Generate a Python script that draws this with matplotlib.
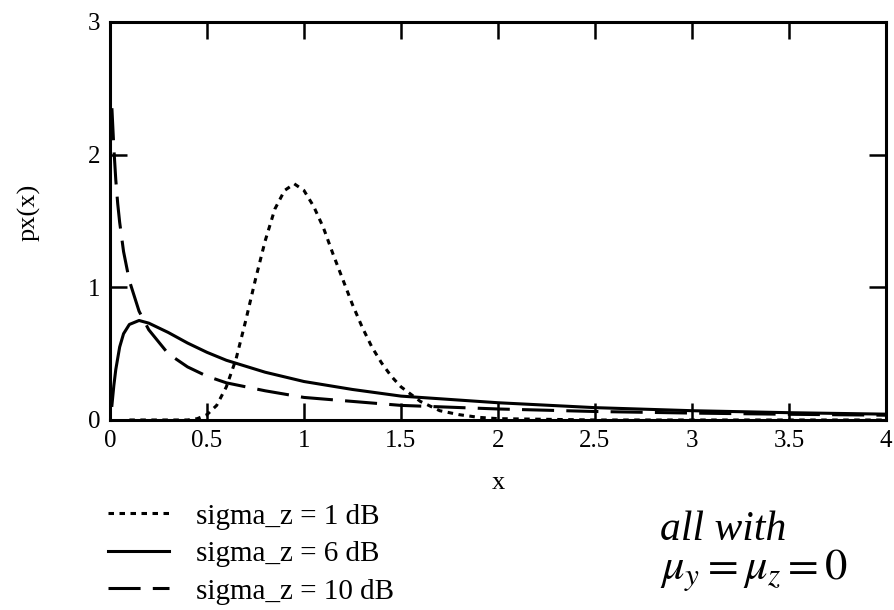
import numpy as np
import matplotlib
matplotlib.use('Agg')
import matplotlib.pyplot as plt

plt.rcParams['font.family'] = ['Liberation Serif', 'DejaVu Serif']
plt.rcParams['mathtext.fontset'] = 'stix'

# sigma_z = 1 dB (dotted)
x_1db = [0.1, 0.2, 0.3, 0.4, 0.45, 0.5, 0.55, 0.6, 0.65, 0.7, 0.75, 0.8, 0.85,
         0.9, 0.95, 1.0, 1.05, 1.1, 1.15, 1.2, 1.25, 1.3, 1.35, 1.4, 1.45, 1.5,
         1.6, 1.7, 1.8, 1.9, 2.0, 2.5, 3.0, 3.5, 4.0]
y_1db = [0.0, 0.0, 0.0, 0.0, 0.01, 0.04, 0.11, 0.25, 0.46, 0.75, 1.06, 1.35, 1.59,
         1.73, 1.78, 1.73, 1.61, 1.45, 1.25, 1.06, 0.87, 0.70, 0.55, 0.43, 0.33, 0.25,
         0.14, 0.07, 0.04, 0.02, 0.01, 0.0, 0.0, 0.0, 0.0]

# sigma_z = 6 dB (solid)
x_6db = [0.01, 0.02, 0.03, 0.05, 0.07, 0.1, 0.15, 0.2, 0.3, 0.4, 0.5, 0.6, 0.8,
         1.0, 1.25, 1.5, 2.0, 2.5, 3.0, 3.5, 4.0]
y_6db = [0.11, 0.26, 0.38, 0.55, 0.65, 0.72, 0.75, 0.73, 0.66, 0.58, 0.51, 0.45, 0.36,
         0.29, 0.23, 0.18, 0.13, 0.093, 0.070, 0.055, 0.044]

# sigma_z = 10 dB (dashed)
x_10db = [0.01, 0.02, 0.03, 0.04, 0.05, 0.07, 0.1, 0.15, 0.2, 0.3, 0.4, 0.5, 0.6,
          0.8, 1.0, 1.25, 1.5, 2.0, 2.5, 3.0, 3.5, 4.0]
y_10db = [2.35, 2.05, 1.81, 1.63, 1.49, 1.27, 1.05, 0.82, 0.68, 0.50, 0.40, 0.33, 0.28,
          0.22, 0.17, 0.14, 0.11, 0.083, 0.064, 0.052, 0.043, 0.036]

x_ticks = [0, 0.5, 1, 1.5, 2, 2.5, 3, 3.5, 4]
x_ticklabels = ['0', '0.5', '1', '1.5', '2', '2.5', '3', '3.5', '4']
y_ticks = [0, 1, 2, 3]
labels = ['sigma_z = 1 dB', 'sigma_z = 6 dB', 'sigma_z = 10 dB']

fig = plt.figure(figsize=(8.94, 6.10), dpi=100)
ax = fig.add_axes([0.123, 0.3115, 0.868, 0.6525])

l1, = ax.plot(x_1db, y_1db, color='black', lw=2.2, dashes=(1.8, 1.8))
l2, = ax.plot(x_6db, y_6db, color='black', lw=2.2)
l3, = ax.plot(x_10db, y_10db, color='black', lw=2.2, dashes=(10.5, 4))

ax.set_xlim(0, 4)
ax.set_ylim(0, 3)
ax.set_xticks(x_ticks)
ax.set_xticklabels(x_ticklabels)
ax.set_yticks(y_ticks)
ax.tick_params(direction='in', length=12, width=1.8, top=True, right=True,
               labelsize=18, pad=7)
for sp in ax.spines.values():
    sp.set_linewidth(2.2)

fig.text(0.557, 0.208, 'x', fontsize=19, ha='center', va='center')
fig.text(0.032, 0.652, 'px(x)', fontsize=19, ha='center', va='center', rotation=90)

fig.legend([l1, l2, l3], labels, loc='center left', bbox_to_anchor=(0.121, 0.092),
           frameon=False, fontsize=21, handlelength=2.1, handletextpad=0.9,
           labelspacing=0.38, borderpad=0, borderaxespad=0)

fig.text(0.738, 0.131, 'all with', fontsize=30, style='italic', ha='left', va='center')
fig.text(0.738, 0.065, r'$\mu_y = \mu_z = 0$', fontsize=32, ha='left', va='center')

fig.savefig('out.png', dpi=100)
